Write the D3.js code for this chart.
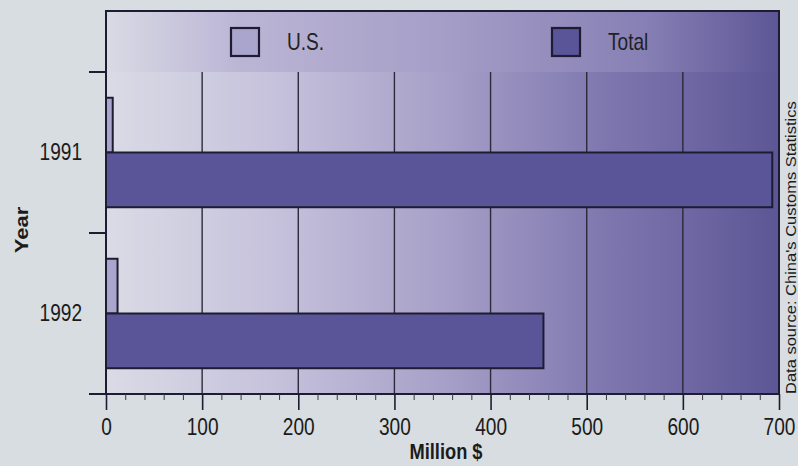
<!DOCTYPE html>
<html>
<head>
<meta charset="utf-8">
<script src="https://cdn.jsdelivr.net/npm/d3@7"></script>
<style>
  html, body { margin: 0; padding: 0; background: #d7dde0; }
  svg { display: block; }
  text { font-family: "Liberation Sans", Arial, Helvetica, sans-serif; }
</style>
</head>
<body>
<svg id="chart" width="798" height="466"></svg>
<script>
// Exports to the U.S. versus total exports, million dollars
const years = ["1991", "1992"];
const seriesNames = ["U.S.", "Total"];
const usValues = [7, 12];
const totalValues = [693, 455];
const xTickValues = [0, 100, 200, 300, 400, 500, 600, 700];
const xMinorStep = 20;
const xLabel = "Million $";
const yLabel = "Year";
const sourceNote = "Data source: China's Customs Statistics";

const rows = years.map((y, i) => ({ year: y, values: { "U.S.": usValues[i], "Total": totalValues[i] } }));

const W = 798, H = 466;
const frame = { left: 106, right: 779, top: 11, legendBottom: 72, bottom: 394 };
const barFill = { "U.S.": "#aaa5cd", "Total": "#5a5598" };
const ink = "#1e1c33";
const squeeze = 0.83; // condensed lettering for horizontal text

const svg = d3.select("#chart");
svg.append("rect").attr("width", W).attr("height", H).attr("fill", "#d7dde0");

const defs = svg.append("defs");
const gPlot = defs.append("linearGradient").attr("id", "plotBg").attr("x1", 0).attr("x2", 1).attr("y1", 0).attr("y2", 0);
[[0, "#d9dbe5"], [0.25, "#c6c2dc"], [0.5, "#a7a0c8"], [0.75, "#7d76ae"], [1, "#5c5696"]]
  .forEach(([o, c]) => gPlot.append("stop").attr("offset", o).attr("stop-color", c));
const gLeg = defs.append("linearGradient").attr("id", "legendBg").attr("x1", 0).attr("x2", 1).attr("y1", 0).attr("y2", 0);
[[0, "#d9dae4"], [0.2, "#bbb5d5"], [0.5, "#a59ec7"], [0.8, "#8780b5"], [1, "#5c5696"]]
  .forEach(([o, c]) => gLeg.append("stop").attr("offset", o).attr("stop-color", c));

const x = d3.scaleLinear().domain([0, 700]).range([frame.left, frame.right]);
const y = d3.scaleBand().domain(years).range([frame.legendBottom, frame.bottom])
  .paddingInner(0.32).paddingOuter(0.16);
const ySub = d3.scaleBand().domain(seriesNames).range([0, y.bandwidth()]).padding(0);

// backgrounds
svg.append("rect").attr("x", frame.left).attr("y", frame.top)
  .attr("width", frame.right - frame.left).attr("height", frame.legendBottom - frame.top)
  .attr("fill", "url(#legendBg)");
svg.append("rect").attr("x", frame.left).attr("y", frame.legendBottom)
  .attr("width", frame.right - frame.left).attr("height", frame.bottom - frame.legendBottom)
  .attr("fill", "url(#plotBg)");

// vertical grid lines
svg.append("g").selectAll("line").data(xTickValues.filter(v => v > 0 && v < 700)).join("line")
  .attr("x1", d => x(d)).attr("x2", d => x(d))
  .attr("y1", frame.legendBottom).attr("y2", frame.bottom)
  .attr("stroke", "#2b2a3a").attr("stroke-width", 1.4);

// bars
const groups = svg.append("g").selectAll("g").data(rows).join("g")
  .attr("transform", d => `translate(0,${y(d.year)})`);
groups.selectAll("rect").data(d => seriesNames.map(s => ({ s, v: d.values[s] }))).join("rect")
  .attr("x", x(0))
  .attr("y", d => ySub(d.s))
  .attr("width", d => x(d.v) - x(0))
  .attr("height", ySub.bandwidth())
  .attr("fill", d => barFill[d.s])
  .attr("stroke", ink).attr("stroke-width", 2);

// frame
const frameG = svg.append("g").attr("stroke", ink).attr("stroke-width", 2).attr("fill", "none");
frameG.append("path").attr("d",
  `M${frame.left},${frame.bottom} V${frame.top} H${frame.right} V${frame.bottom}`);
// band boundaries on the left axis (extend as ticks)
const step = y.step();
const boundaries = years.map(d => y(d) - step * y.paddingOuter()).concat([frame.bottom]);
frameG.selectAll("line.bound").data(boundaries).join("line").attr("class", "bound")
  .attr("x1", 89).attr("x2", d => (d === frame.legendBottom ? frame.right : frame.left))
  .attr("y1", d => d).attr("y2", d => d);
// bottom axis line
frameG.append("line").attr("x1", 89).attr("x2", frame.right)
  .attr("y1", frame.bottom).attr("y2", frame.bottom);

// bottom axis: major and minor ticks
const minorVals = d3.range(0, 701, xMinorStep).filter(v => v % 100 !== 0);
const minorAxis = svg.append("g").attr("transform", `translate(0,${frame.bottom})`)
  .call(d3.axisBottom(x).tickValues(minorVals).tickSize(6).tickFormat(""));
minorAxis.select(".domain").remove();
minorAxis.selectAll("line").attr("stroke", "#3a3848").attr("stroke-width", 1);

const majorAxis = svg.append("g").attr("transform", `translate(0,${frame.bottom})`)
  .call(d3.axisBottom(x).tickValues(xTickValues).tickSize(16).tickPadding(9).tickFormat(d3.format("d")));
majorAxis.select(".domain").remove();
majorAxis.selectAll("line").attr("stroke", ink).attr("stroke-width", 1.6);
majorAxis.selectAll("text").attr("font-size", 23).attr("fill", "#1b1b1b")
  .attr("transform", `scale(${squeeze},1)`);

// left axis: year labels
const yAxis = svg.append("g").attr("transform", `translate(${frame.left},0)`)
  .call(d3.axisLeft(y).tickSize(0).tickPadding(0));
yAxis.select(".domain").remove();
yAxis.selectAll("text").attr("x", 0).attr("font-size", 23).attr("fill", "#1b1b1b")
  .attr("transform", `translate(-24,0) scale(${squeeze},1)`);

// legend
const legendPos = { "U.S.": 231, "Total": 552 };
const leg = svg.append("g").selectAll("g").data(seriesNames).join("g")
  .attr("transform", d => `translate(${legendPos[d]},28)`);
leg.append("rect").attr("width", 28).attr("height", 28)
  .attr("fill", d => barFill[d]).attr("stroke", ink).attr("stroke-width", 2.2);
leg.append("text").attr("transform", `translate(56,22) scale(${squeeze},1)`)
  .attr("font-size", 23).attr("fill", "#222").text(d => d);

// axis titles
svg.append("text").attr("transform", `translate(446,459) scale(${squeeze},1)`)
  .attr("text-anchor", "middle").attr("font-size", 22).attr("font-weight", "bold")
  .attr("fill", "#1b1b1b").text(xLabel);
svg.append("text")
  .attr("transform", `translate(28,230) rotate(-90) scale(1,${squeeze})`)
  .attr("text-anchor", "middle").attr("font-size", 22).attr("font-weight", "bold")
  .attr("fill", "#1b1b1b").text(yLabel);

// source note along the right edge
svg.append("text")
  .attr("transform", `translate(796,${frame.bottom}) rotate(-90) scale(1,0.9)`)
  .attr("text-anchor", "start").attr("font-size", 16.5)
  .attr("fill", "#1b1b1b").text(sourceNote);
</script>
</body>
</html>
